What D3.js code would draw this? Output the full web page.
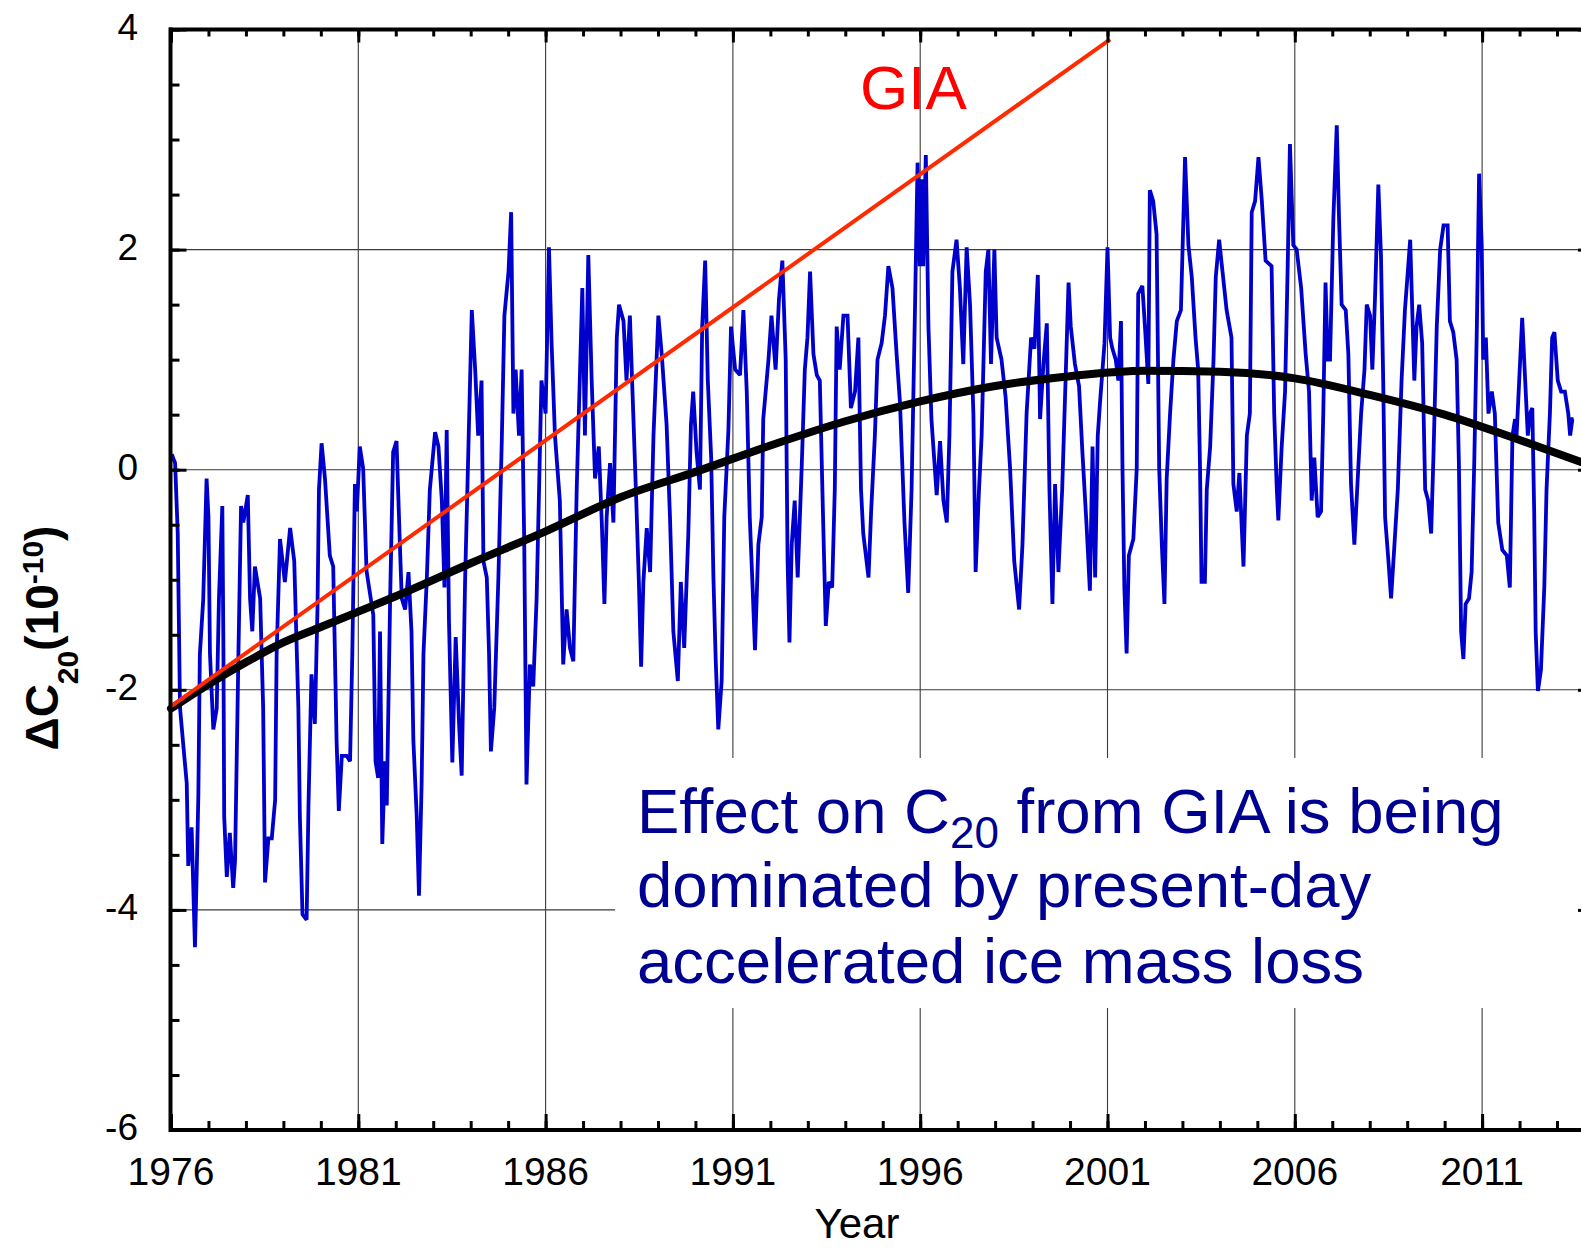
<!DOCTYPE html>
<html><head><meta charset="utf-8">
<script src="https://cdn.jsdelivr.net/npm/d3@7/dist/d3.min.js"></script>
<style>
body{margin:0;background:#fff}
svg{display:block}
text{font-family:"Liberation Sans",Arial,Helvetica,sans-serif}
</style>
</head><body>
<svg id="chart" width="1581" height="1249"></svg>
<script>
// ---- data ----
const c20Years = [
1976.02,1976.11,1976.18,1976.24,1976.33,1976.42,1976.46,1976.55,1976.64,1976.69,1976.73,1976.77,1976.86,1976.95,
1977.00,1977.04,1977.13,1977.22,1977.28,1977.37,1977.40,1977.42,1977.49,1977.57,1977.66,1977.71,1977.80,1977.87,1977.93,
1978.05,1978.11,1978.17,1978.24,1978.38,1978.46,1978.51,1978.60,1978.69,1978.78,1978.82,1978.91,
1979.04,1979.18,1979.29,1979.40,1979.44,1979.51,1979.62,1979.67,1979.75,1979.84,1979.91,1979.95,
1980.02,1980.11,1980.24,1980.33,1980.39,1980.42,1980.48,1980.56,1980.69,1980.78,1980.84,1980.91,1980.96,
1981.04,1981.13,1981.22,1981.31,1981.40,1981.46,1981.53,1981.58,1981.64,1981.71,1981.76,1981.85,1981.93,
1982.02,1982.11,1982.16,1982.25,1982.34,1982.42,1982.47,1982.56,1982.62,1982.69,1982.74,1982.83,1982.91,
1983.05,1983.14,1983.23,1983.30,1983.36,1983.42,1983.51,1983.60,1983.69,1983.76,1983.85,1983.94,
1984.03,1984.12,1984.20,1984.29,1984.34,1984.43,1984.49,1984.54,1984.63,1984.74,1984.83,1984.90,
1985.01,1985.08,1985.14,1985.20,1985.29,1985.36,1985.43,1985.49,1985.58,1985.67,1985.76,1985.89,
1986.00,1986.09,1986.16,1986.25,1986.38,1986.47,1986.56,1986.65,1986.74,1986.83,1986.92,1986.98,
1987.05,1987.14,1987.23,1987.32,1987.42,1987.50,1987.57,1987.63,1987.72,1987.81,1987.90,1987.96,
1988.08,1988.16,1988.25,1988.34,1988.43,1988.49,1988.55,1988.61,1988.70,1988.79,1988.88,
1989.01,1989.10,1989.23,1989.32,1989.41,1989.53,1989.61,1989.70,1989.81,1989.88,1989.94,
1990.03,1990.12,1990.18,1990.26,1990.33,1990.42,1990.48,1990.54,1990.61,1990.70,1990.77,1990.88,1990.95,
1991.06,1991.19,1991.28,1991.37,1991.45,1991.52,1991.59,1991.68,1991.77,1991.81,1991.95,
1992.03,1992.14,1992.23,1992.32,1992.41,1992.46,1992.51,1992.57,1992.65,1992.73,1992.84,1992.92,1992.99,
1993.06,1993.15,1993.24,1993.32,1993.41,1993.48,1993.56,1993.65,1993.72,1993.77,1993.85,1993.95,
1994.06,1994.15,1994.26,1994.35,1994.42,1994.48,1994.62,1994.69,1994.79,1994.86,1994.97,
1995.06,1995.15,1995.26,1995.37,1995.46,1995.58,1995.68,1995.77,1995.86,1995.93,1995.99,
1996.04,1996.08,1996.15,1996.22,1996.30,1996.44,1996.53,1996.62,1996.71,1996.78,1996.86,1996.97,
1997.06,1997.15,1997.24,1997.33,1997.42,1997.48,1997.57,1997.64,1997.75,1997.82,1997.89,1997.98,
1998.04,1998.17,1998.28,1998.40,1998.51,1998.64,1998.73,1998.84,1998.96,
1999.05,1999.14,1999.20,1999.29,1999.38,1999.45,1999.53,1999.60,1999.69,1999.79,1999.88,1999.96,
2000.02,2000.13,2000.24,2000.33,2000.44,2000.53,2000.60,2000.67,2000.74,2000.80,2000.92,
2001.00,2001.07,2001.13,2001.22,2001.29,2001.36,2001.40,2001.45,2001.51,2001.57,2001.69,2001.78,2001.82,2001.93,
2002.00,2002.09,2002.13,2002.22,2002.31,2002.38,2002.45,2002.52,2002.58,2002.67,2002.76,2002.85,2002.96,
2003.07,2003.16,2003.25,2003.35,2003.42,2003.47,2003.51,2003.60,2003.65,2003.74,2003.83,2003.89,2003.98,
2004.07,2004.18,2004.31,2004.36,2004.45,2004.52,2004.63,2004.72,2004.80,2004.85,2004.94,
2005.03,2005.12,2005.22,2005.38,2005.45,2005.52,2005.56,2005.65,2005.74,2005.81,2005.87,2005.96,
2006.05,2006.17,2006.29,2006.38,2006.45,2006.52,2006.61,2006.70,2006.76,2006.82,2006.88,2006.94,
2007.03,2007.12,2007.18,2007.25,2007.36,2007.43,2007.50,2007.59,2007.68,2007.77,2007.86,2007.92,
2008.01,2008.07,2008.14,2008.23,2008.30,2008.36,2008.41,2008.50,2008.57,2008.66,2008.75,2008.85,2008.94,
2009.08,2009.14,2009.19,2009.25,2009.32,2009.40,2009.48,2009.56,2009.64,2009.70,2009.79,2009.88,2009.97,
2010.08,2010.14,2010.23,2010.32,2010.38,2010.44,2010.50,2010.56,2010.65,2010.72,2010.79,2010.86,2010.92,2010.99,
2011.03,2011.10,2011.17,2011.26,2011.34,2011.43,2011.54,2011.66,2011.74,2011.81,2011.88,2011.92,2011.99,
2012.07,2012.15,2012.22,2012.28,2012.34,2012.39,2012.43,2012.49,2012.57,2012.66,2012.72,2012.81,2012.87,2012.93,
2013.02,2013.11,2013.21,2013.30,2013.35,2013.41,2013.44
];
const c20Values = [
0.14,0.06,-0.58,-2.16,-2.51,-2.85,-3.60,-3.25,-4.34,-3.60,-2.96,-1.68,-1.18,-0.08,
-0.43,-1.67,-2.36,-2.17,-1.17,-0.33,-1.67,-3.15,-3.70,-3.30,-3.80,-3.55,-1.67,-0.33,-0.48,
-0.23,-1.17,-1.47,-0.88,-1.17,-2.16,-3.75,-3.35,-3.35,-3.00,-1.67,-0.63,
-1.02,-0.53,-0.83,-2.16,-3.15,-4.04,-4.09,-3.05,-1.86,-2.31,-1.27,-0.18,
0.24,-0.08,-0.78,-0.88,-1.92,-2.46,-3.10,-2.60,-2.60,-2.65,-1.67,-0.13,-0.38,
0.21,0.01,-0.92,-1.12,-1.32,-2.65,-2.80,-1.47,-3.40,-2.65,-3.05,-1.17,0.16,
0.26,-0.68,-1.17,-1.27,-0.93,-1.47,-2.46,-3.15,-3.87,-2.86,-1.67,-0.98,-0.18,
0.34,0.21,-0.28,-1.07,0.36,-1.37,-2.66,-1.52,-2.31,-2.78,-1.02,0.21,
1.45,0.91,0.31,0.81,-0.83,-0.98,-1.67,-2.56,-2.16,-0.98,0.26,1.40,
1.80,2.34,0.51,0.91,0.31,0.91,-0.68,-2.86,-1.77,-1.97,-1.17,0.81,
0.51,2.02,1.15,0.31,-0.28,-1.77,-1.27,-1.62,-1.74,-0.18,0.91,1.65,
0.31,1.95,0.81,-0.08,0.21,-0.48,-1.22,-0.43,0.06,-0.48,1.20,1.50,
1.35,0.81,1.40,0.51,-0.38,-1.02,-1.79,-1.02,-0.53,-0.93,0.31,
1.40,1.05,0.41,-0.43,-1.47,-1.92,-1.02,-1.62,-0.58,0.41,0.71,
0.16,-0.18,1.30,1.90,0.81,0.11,-0.98,-1.72,-2.36,-1.92,-0.43,0.36,1.30,
0.91,0.86,1.45,0.71,-0.43,-1.02,-1.64,-0.68,-0.43,0.46,1.00,
1.40,0.91,1.55,1.90,1.00,-0.83,-1.57,-0.68,-0.28,-0.98,0.06,0.91,1.20,
1.80,1.05,0.86,0.81,-0.48,-1.42,-1.02,-1.07,-0.18,1.30,0.91,1.40,
1.40,0.56,0.71,1.20,-0.18,-0.58,-0.98,-0.38,0.31,1.00,1.15,
1.40,1.85,1.65,1.05,0.61,-0.48,-1.12,-0.18,1.45,2.79,1.85,
2.64,1.85,2.86,1.30,0.46,-0.23,0.26,-0.28,-0.48,0.31,1.80,2.09,
1.65,0.96,2.02,1.50,0.51,-0.93,-0.18,0.31,1.80,2.00,0.96,2.00,
1.20,1.00,0.66,0.01,-0.83,-1.27,-0.68,0.51,1.20,
1.10,1.77,0.46,0.96,1.33,-0.18,-1.22,-0.13,-0.93,-0.18,0.81,1.70,
1.30,0.96,0.76,0.16,-0.50,-1.10,0.21,-0.98,0.31,0.61,1.15,
2.02,1.20,1.10,1.00,0.81,1.35,0.01,-1.07,-1.67,-0.78,-0.63,0.01,1.60,1.67,
1.30,0.78,2.54,2.44,2.14,0.01,-0.68,-1.22,-0.08,0.51,1.00,1.35,1.45,
2.84,2.04,1.75,1.20,0.91,0.01,-1.02,-1.02,-0.18,0.21,1.00,1.75,2.09,
1.80,1.45,1.20,-0.13,-0.38,-0.03,-0.88,0.31,0.51,2.34,2.44,
2.84,2.44,1.90,1.85,0.51,-0.18,-0.46,0.21,0.71,1.85,2.96,2.04,
2.00,1.65,1.05,0.71,-0.28,0.11,-0.43,-0.38,0.51,1.70,1.00,1.00,
2.29,3.13,2.29,1.50,1.45,1.05,-0.13,-0.68,-0.08,0.51,0.91,1.50,
1.40,0.91,1.55,2.59,1.95,0.81,-0.43,-0.83,-1.17,-0.68,-0.18,0.81,1.45,
2.09,1.40,0.81,1.30,1.50,1.15,-0.18,-0.28,-0.58,0.11,1.30,2.00,2.22,
2.22,1.35,1.25,1.00,0.06,-1.47,-1.72,-1.22,-1.17,-0.93,0.06,1.30,2.69,2.04,
1.00,1.20,0.51,0.71,0.51,-0.48,-0.73,-0.78,-1.07,0.31,0.46,0.31,0.81,
1.38,0.81,0.31,0.51,0.56,-0.38,-1.47,-2.01,-1.82,-1.07,-0.18,0.51,1.20,1.25,
0.81,0.71,0.71,0.51,0.31,0.46,0.46
];
const trendYears  = [1976, 1977, 1978, 1979, 1980, 1981, 1982, 1984, 1986, 1988, 1990, 1992, 1994, 1996, 1998, 2000, 2002, 2004, 2006, 2008, 2010, 2012, 2013.64];
const trendValues = [-2.17,-1.95,-1.75,-1.57,-1.43,-1.29,-1.15,-0.85,-0.56,-0.25,-0.02,0.22,0.44,0.62,0.76,0.85,0.90,0.89,0.83,0.68,0.50,0.27,0.07];
const giaYears  = [1976, 2001.07];
const giaValues = [-2.15, 3.91];
const xTickLabels = ["1976","1981","1986","1991","1996","2001","2006","2011"];
const yTickLabels = ["-6","-4","-2","0","2","4"];
const noteLine1 = ["Effect on C", "20", " from GIA is being"];
const noteLine2 = "dominated by present-day";
const noteLine3 = "accelerated ice mass loss";

// ---- layout ----
const svg = d3.select("#chart");
const xL = 171, xR = 1581, yT = 29.5, yB = 1130;
const x = d3.scaleLinear().domain([1976, 2013.64]).range([xL, xR]);
const y = d3.scaleLinear().domain([-6, 4]).range([yB, yT]);

const xMajor = xTickLabels.map(Number);
const xMinor = d3.range(1976, 2014);
const yMajor = yTickLabels.map(Number);
const yMinor = d3.range(-6, 4.01, 0.5);

// gridlines
const grid = svg.append("g").attr("stroke", "#3a3a3a").attr("stroke-width", 1.1);
grid.selectAll(".vg").data(xMajor.slice(1)).join("line")
  .attr("x1", d => x(d)).attr("x2", d => x(d)).attr("y1", yT).attr("y2", yB);
grid.selectAll(".hg").data(yMajor.filter(v => v > -6 && v < 4)).join("line")
  .attr("x1", xL).attr("x2", xR).attr("y1", d => y(d)).attr("y2", d => y(d));

// white panel behind the note
svg.append("rect").attr("x", 615).attr("y", 758).attr("width", xR - 615).attr("height", 250).attr("fill", "#fff");

// blue series
const c20 = c20Years.map((t, i) => [t, c20Values[i]]);
svg.append("path").datum(c20)
  .attr("fill", "none").attr("stroke", "#0000cc").attr("stroke-width", 3.8)
  .attr("stroke-linejoin", "miter").attr("stroke-miterlimit", 2)
  .attr("d", d3.line().x(d => x(d[0])).y(d => y(d[1])));

// black trend
const trend = trendYears.map((t, i) => [t, trendValues[i]]);
svg.append("path").datum(trend)
  .attr("fill", "none").attr("stroke", "#000").attr("stroke-width", 8).attr("stroke-linecap", "round")
  .attr("d", d3.line().curve(d3.curveMonotoneX).x(d => x(d[0])).y(d => y(d[1])));

// red GIA line
const gia = giaYears.map((t, i) => [t, giaValues[i]]);
svg.append("path").datum(gia)
  .attr("fill", "none").attr("stroke", "#ff2a00").attr("stroke-width", 4)
  .attr("d", d3.line().x(d => x(d[0])).y(d => y(d[1])));

// axes (ticks inward)
function styleAxis(g){ g.select(".domain").remove(); g.selectAll(".tick line").attr("stroke","#000").attr("stroke-width",3); g.selectAll(".tick text").remove(); }
svg.append("g").attr("transform", `translate(0,${yB})`).call(d3.axisTop(x).tickValues(xMinor).tickSize(9)).call(styleAxis);
svg.append("g").attr("transform", `translate(0,${yB})`).call(d3.axisTop(x).tickValues(xMajor).tickSize(16)).call(styleAxis);
svg.append("g").attr("transform", `translate(0,${yT})`).call(d3.axisBottom(x).tickValues(xMinor).tickSize(7)).call(styleAxis);
svg.append("g").attr("transform", `translate(0,${yT})`).call(d3.axisBottom(x).tickValues(xMajor).tickSize(13)).call(styleAxis);
svg.append("g").attr("transform", `translate(${xL - 0.5},0)`).call(d3.axisRight(y).tickValues(yMinor).tickSize(9)).call(styleAxis);
svg.append("g").attr("transform", `translate(${xL - 0.5},0)`).call(d3.axisRight(y).tickValues(yMajor).tickSize(16)).call(styleAxis);
svg.append("g").attr("transform", `translate(1594,0)`).call(d3.axisLeft(y).tickValues(yMajor).tickSize(16)).call(styleAxis);

// axis lines
const ax = svg.append("g").attr("stroke", "#000").attr("stroke-width", 4);
ax.append("line").attr("x1", xL - 0.5).attr("x2", xL - 0.5).attr("y1", yT - 2).attr("y2", yB + 2);
ax.append("line").attr("x1", xL - 2).attr("x2", 1581).attr("y1", yT).attr("y2", yT);
ax.append("line").attr("x1", xL - 2).attr("x2", 1581).attr("y1", yB).attr("y2", yB);

// tick labels
svg.append("g").selectAll("text").data(xTickLabels).join("text")
  .attr("x", d => x(+d)).attr("y", 1185).attr("text-anchor", "middle")
  .style("font-size", "39px").text(d => d);
svg.append("g").selectAll("text").data(yTickLabels).join("text")
  .attr("x", 138).attr("y", d => y(+d) + 10).attr("text-anchor", "end")
  .style("font-size", "37px").text(d => d);

// axis titles
svg.append("text").attr("x", 857).attr("y", 1238).attr("text-anchor", "middle").style("font-size", "42px").text("Year");
const yl = svg.append("text").attr("transform", "translate(58,638) rotate(-90)")
  .attr("text-anchor", "middle").style("font-weight", "bold").style("font-size", "46px");
yl.append("tspan").text("ΔC");
yl.append("tspan").attr("dy", 20).style("font-size", "30px").text("20");
yl.append("tspan").attr("dy", -20).text("(10");
yl.append("tspan").attr("dy", -15).style("font-size", "30px").text("-10");
yl.append("tspan").attr("dy", 15).text(")");

// GIA label
svg.append("text").attr("x", 860).attr("y", 109).attr("fill", "#ff0000").style("font-size", "62px").text("GIA");

// note
const note = svg.append("g").attr("fill", "#000090").style("font-size", "63.5px");
const t1 = note.append("text").attr("x", 637).attr("y", 833);
t1.append("tspan").text(noteLine1[0]);
t1.append("tspan").attr("dy", 15).style("font-size", "44px").text(noteLine1[1]);
t1.append("tspan").attr("dy", -15).text(noteLine1[2]);
note.append("text").attr("x", 637).attr("y", 907).text(noteLine2);
note.append("text").attr("x", 637).attr("y", 983).text(noteLine3);
</script>
</body></html>
